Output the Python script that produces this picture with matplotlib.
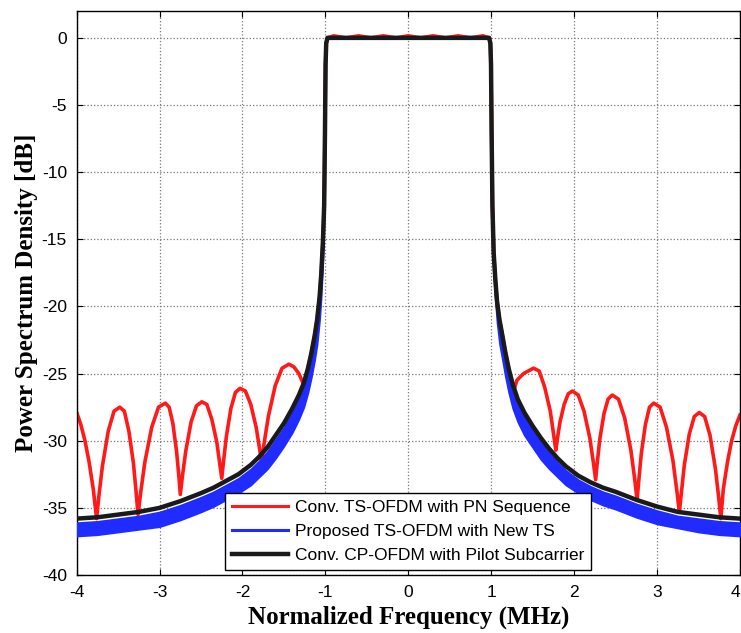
import matplotlib.pyplot as plt
from matplotlib.lines import Line2D

plt.rcParams['font.family'] = ['Liberation Sans', 'DejaVu Sans']
plt.rcParams['axes.unicode_minus'] = False

# CP-OFDM (black) and proposed TS (blue band) share one frequency grid
freq = [-4.0, -3.75, -3.5, -3.25, -3.0, -2.75, -2.5, -2.35, -2.2, -2.05, -1.9, -1.8, -1.7,
        -1.6, -1.5, -1.4, -1.32, -1.26, -1.21, -1.17, -1.13, -1.10, -1.07, -1.05, -1.03,
        -1.015, -1.005, -0.998, -0.99, -0.975,
        -0.5, 0.0, 0.5,
        0.975, 0.99, 0.998, 1.005, 1.015, 1.03, 1.05, 1.07, 1.10, 1.13, 1.17, 1.21, 1.26,
        1.32, 1.4, 1.5, 1.6, 1.7, 1.8, 1.9, 2.05, 2.2, 2.35, 2.5, 2.75, 3.0, 3.25, 3.5, 3.75, 4.0]
cp_psd = [-35.8, -35.7, -35.5, -35.3, -35.0, -34.5, -33.9, -33.5, -33.0, -32.5, -31.8, -31.2, -30.5,
          -29.6, -28.7, -27.6, -26.6, -25.7, -24.6, -23.5, -22.2, -21.0, -19.3, -17.6, -15.2,
          -12.5, -7.0, -2.0, -0.4, 0.0,
          0.0, 0.0, 0.0,
          0.0, -0.4, -2.0, -7.0, -12.5, -16.0, -18.0, -19.6, -21.0, -22.0, -23.4, -24.6, -25.8,
          -26.9, -27.9, -28.9, -29.8, -30.6, -31.3, -31.9, -32.6, -33.1, -33.5, -33.8, -34.4, -34.9, -35.3, -35.5, -35.7, -35.8]
new_ts_hi = [-36.1, -36.0, -35.8, -35.6, -35.3, -34.8, -34.2, -33.8, -33.3, -32.8, -32.1, -31.5, -30.8,
             -29.9, -29.0, -27.9, -26.9, -26.0, -24.9, -23.8, -22.5, -21.3, -19.6, -17.9, -15.4,
             -12.6, -7.0, -2.0, -0.4, 0.0,
             0.0, 0.0, 0.0,
             0.0, -0.4, -2.0, -7.0, -12.6, -16.3, -18.3, -19.9, -21.3, -22.3, -23.7, -24.9, -26.1,
             -27.2, -28.2, -29.2, -30.1, -30.9, -31.6, -32.2, -32.9, -33.4, -33.8, -34.1, -34.7, -35.2, -35.6, -35.8, -36.0, -36.1]
new_ts_lo = [-37.1, -37.0, -36.8, -36.6, -36.4, -35.9, -35.3, -34.9, -34.4, -33.9, -33.3, -32.7, -32.1,
             -31.3, -30.4, -29.4, -28.4, -27.5, -26.4, -25.3, -24.0, -22.8, -21.0, -19.2, -16.5,
             -13.4, -7.4, -2.1, -0.4, 0.0,
             0.0, 0.0, 0.0,
             0.0, -0.4, -2.1, -7.4, -13.4, -17.4, -19.6, -21.2, -22.8, -23.8, -25.2, -26.4, -27.6,
             -28.6, -29.6, -30.5, -31.4, -32.1, -32.7, -33.3, -33.9, -34.4, -34.8, -35.1, -35.7, -36.2, -36.5, -36.8, -37.0, -37.1]

# conventional TS-OFDM with PN sequence (red), one row per side lobe
pn_freq = [-4.0, -3.95, -3.90, -3.85, -3.80, -3.76,
           -3.732, -3.69, -3.62, -3.55, -3.48, -3.425, -3.37, -3.315, -3.282, -3.26,
           -3.227, -3.178, -3.095, -3.013, -2.93, -2.885, -2.84, -2.795, -2.768, -2.75,
           -2.724, -2.685, -2.62, -2.555, -2.49, -2.43, -2.37, -2.31, -2.274, -2.25,
           -2.228, -2.195, -2.14, -2.085, -2.03, -1.965, -1.90, -1.835, -1.796, -1.77,
           -1.737, -1.688, -1.605, -1.523, -1.44, -1.38, -1.32, -1.27, -1.24,
           -1.21, -1.17, -1.13, -1.10, -1.07, -1.05, -1.03, -1.015, -1.005, -0.998, -0.99,
           -0.975, -0.9, -0.75, -0.6, -0.45, -0.3, -0.15, 0.0, 0.15, 0.3, 0.45, 0.6, 0.75, 0.9,
           0.975, 0.99, 0.998, 1.005, 1.015, 1.03, 1.05, 1.07, 1.10, 1.13, 1.17, 1.21,
           1.25, 1.31, 1.39, 1.51, 1.578, 1.645, 1.713, 1.753, 1.78,
           1.80, 1.83, 1.88, 1.93, 1.98, 2.05, 2.12, 2.19, 2.232, 2.26,
           2.28, 2.31, 2.36, 2.41, 2.46, 2.535, 2.61, 2.685, 2.73, 2.76,
           2.78, 2.81, 2.86, 2.91, 2.96, 3.038, 3.115, 3.193, 3.239, 3.27,
           3.294, 3.33, 3.39, 3.45, 3.51, 3.575, 3.64, 3.705, 3.744, 3.77,
           3.80, 3.85, 3.90, 3.95, 4.0]
pn_psd = [-27.9, -28.8, -30.0, -31.6, -33.6, -35.8,
          -34.1, -31.9, -29.3, -27.8, -27.5, -27.8, -29.3, -31.7, -33.9, -35.5,
          -33.8, -31.6, -29.0, -27.5, -27.2, -27.5, -28.7, -30.8, -32.6, -34.0,
          -32.6, -30.8, -28.6, -27.4, -27.1, -27.3, -28.4, -30.1, -31.7, -32.8,
          -31.5, -29.7, -27.6, -26.4, -26.1, -26.3, -27.3, -29.0, -30.5, -31.6,
          -30.1, -28.2, -25.9, -24.6, -24.3, -24.5, -25.0, -25.7, -26.4,
          -24.6, -23.5, -22.2, -21.0, -19.3, -17.6, -15.2, -12.5, -7.0, -2.0, -0.4,
          0.0, 0.15, 0.0, 0.15, 0.0, 0.15, 0.0, 0.15, 0.0, 0.15, 0.0, 0.15, 0.0, 0.15,
          0.0, -0.4, -2.0, -7.0, -12.5, -16.0, -18.0, -19.6, -21.0, -22.0, -23.4, -24.6,
          -26.7, -25.5, -25.0, -24.6, -24.8, -26.0, -27.8, -29.5, -30.7,
          -29.8, -28.6, -27.3, -26.5, -26.3, -26.6, -27.8, -29.8, -31.6, -32.9,
          -31.6, -29.9, -28.0, -26.9, -26.6, -26.9, -28.3, -30.7, -32.8, -34.4,
          -33.0, -31.0, -28.8, -27.5, -27.2, -27.5, -29.0, -31.5, -33.7, -35.3,
          -33.9, -31.8, -29.5, -28.2, -27.9, -28.2, -29.6, -32.1, -34.2, -35.8,
          -33.6, -31.6, -30.0, -28.9, -28.1]

xticks = [-4, -3, -2, -1, 0, 1, 2, 3, 4]
yticks = [0, -5, -10, -15, -20, -25, -30, -35, -40]

fig = plt.figure(figsize=(7.41, 6.33), dpi=100)
ax = fig.add_axes([0.1035, 0.0916, 0.8950, 0.891])

ax.plot(pn_freq, pn_psd, color='#ff1a1a', lw=2.6, zorder=2)
ax.fill_between(freq, new_ts_lo, new_ts_hi, color='#1f2bff', lw=1.2, edgecolor='#1f2bff', zorder=3)
ax.plot(freq, cp_psd, color='#1a1a1a', lw=3.2, zorder=4, solid_joinstyle='round')

ax.set_xlim(-4, 4)
ax.set_ylim(-40, 2)
ax.set_xticks(xticks)
ax.set_yticks(yticks)
ax.tick_params(direction='in', top=True, right=True, labelsize=12.5, length=4, width=0.8)
ax.tick_params(axis='x', pad=7)
ax.tick_params(axis='y', pad=7)
ax.get_xticklabels()[-1].set_horizontalalignment('right')
ax.grid(True, color='#777777', linestyle=':', linewidth=0.9)
ax.set_axisbelow(True)
for s in ax.spines.values():
    s.set_linewidth(1.0)

lbl = dict(family=['Liberation Serif', 'DejaVu Serif'], fontweight='bold', fontsize=18)
ax.set_xlabel('Normalized Frequency (MHz)', labelpad=4, **lbl)
ax.set_ylabel('Power Spectrum Density [dB]', labelpad=3, **lbl)

handles = [Line2D([], [], color='#ff1a1a', lw=2.2),
           Line2D([], [], color='#1f2bff', lw=2.2),
           Line2D([], [], color='#1a1a1a', lw=3.2)]
labels = ['Conv. TS-OFDM with PN Sequence', 'Proposed TS-OFDM with New TS',
          'Conv. CP-OFDM with Pilot Subcarrier']
leg = ax.legend(handles, labels, loc='lower left', bbox_to_anchor=(0.224, 0.009),
                borderaxespad=0, fontsize=12.5, handlelength=3.2, handletextpad=0.4,
                labelspacing=0.5, borderpad=0.4, fancybox=False, framealpha=1,
                edgecolor='black')
leg.get_frame().set_linewidth(1.0)
leg.set_zorder(6)

fig.savefig('out.png', dpi=100)
